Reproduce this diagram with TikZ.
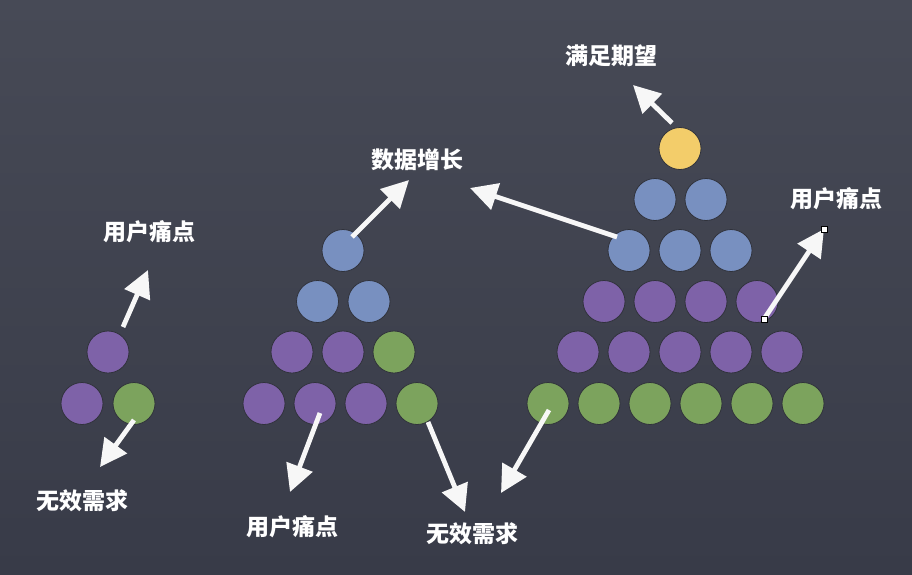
\documentclass[tikz,border=0pt]{standalone}
\usepackage{fontspec}
\newfontfamily\cjk{Noto Sans CJK SC}
\usetikzlibrary{arrows.meta}
\definecolor{bgtop}{HTML}{474A56}
\definecolor{bgbot}{HTML}{383B48}
\definecolor{cyel}{HTML}{F3CD6A}
\definecolor{cblu}{HTML}{7890C0}
\definecolor{cpur}{HTML}{7E62A8}
\definecolor{cgrn}{HTML}{7CA35D}
\definecolor{crim}{HTML}{30323B}
\tikzset{
  dot/.style={circle,minimum size=42pt,inner sep=0pt,draw=crim,line width=0.8pt},
  yel/.style={dot,fill=cyel},
  blu/.style={dot,fill=cblu},
  pur/.style={dot,fill=cpur},
  grn/.style={dot,fill=cgrn},
  chalk/.style={draw=white!94!gray,line width=4.8pt,-{Triangle[length=27pt,width=27pt]}},
  lbl/.style={text=white,font=\cjk\bfseries\fontsize{23}{23}\selectfont,inner sep=0pt},
  handle/.style={draw=black,fill=white,line width=0.8pt,minimum size=6pt,inner sep=0pt,rectangle}
}
\begin{document}
\begin{tikzpicture}[x=1pt,y=-1pt]
\useasboundingbox (0,0) rectangle (912,575);
\shade[top color=bgtop,bottom color=bgbot] (0,0) rectangle (912,575);
% left pyramid
\node[pur] (l1) at (108,352) {};
\node[pur] (l21) at (82,403.5) {};
\node[grn] (l22) at (134,403.5) {};
% middle pyramid
\node[blu] (m1) at (343,250.5) {};
\node[blu] (m21) at (317.5,301.5) {};
\node[blu] (m22) at (369,301.5) {};
\node[pur] (m31) at (292,352) {};
\node[pur] (m32) at (343,352) {};
\node[grn] (m33) at (394,352) {};
\node[pur] (m41) at (264,403.5) {};
\node[pur] (m42) at (315,403.5) {};
\node[pur] (m43) at (366,403.5) {};
\node[grn] (m44) at (417,403.5) {};
% right pyramid
\node[yel] (r1) at (680,148.5) {};
\node[blu] (r21) at (655,199.5) {};
\node[blu] (r22) at (706,199.5) {};
\node[blu] (r31) at (629,250.5) {};
\node[blu] (r32) at (680,250.5) {};
\node[blu] (r33) at (731,250.5) {};
\node[pur] (r41) at (604,301.5) {};
\node[pur] (r42) at (655,301.5) {};
\node[pur] (r43) at (706,301.5) {};
\node[pur] (r44) at (757,301.5) {};
\node[pur] (r51) at (578,352) {};
\node[pur] (r52) at (629,352) {};
\node[pur] (r53) at (680,352) {};
\node[pur] (r54) at (731,352) {};
\node[pur] (r55) at (782,352) {};
\node[grn] (r61) at (548,403.5) {};
\node[grn] (r62) at (599,403.5) {};
\node[grn] (r63) at (650,403.5) {};
\node[grn] (r64) at (701,403.5) {};
\node[grn] (r65) at (752,403.5) {};
\node[grn] (r66) at (803,403.5) {};
% labels
\node[lbl] (t1) at (149,232) {用户痛点};
\node[lbl] (t2) at (82,501) {无效需求};
\node[lbl] (t3) at (417,160) {数据增长};
\node[lbl] (t4) at (292,527) {用户痛点};
\node[lbl] (t5) at (472,534) {无效需求};
\node[lbl] (t6) at (611,56) {满足期望};
\node[lbl] (t7) at (836,199) {用户痛点};
% arrow ends
\coordinate (a1s) at (123,327); \coordinate (a1e) at (148,270);
\coordinate (a2s) at (134,420); \coordinate (a2e) at (100,467);
\coordinate (a3s) at (352,237); \coordinate (a3e) at (409,180);
\coordinate (a4s) at (320,413); \coordinate (a4e) at (290,492);
\coordinate (a5s) at (428,422); \coordinate (a5e) at (465,512);
\coordinate (a6s) at (549,410); \coordinate (a6e) at (501,493);
\coordinate (a7s) at (617,237); \coordinate (a7e) at (470,188);
\coordinate (a8s) at (672,123); \coordinate (a8e) at (633,85);
\coordinate (a9s) at (764,319); \coordinate (a9e) at (824,229);
\draw[chalk] (a1s) -- (a1e);
\draw[chalk] (a2s) -- (a2e);
\draw[chalk] (a3s) -- (a3e);
\draw[chalk] (a4s) -- (a4e);
\draw[chalk] (a5s) -- (a5e);
\draw[chalk] (a6s) -- (a6e);
\draw[chalk] (a7s) -- (a7e);
\draw[chalk] (a8s) -- (a8e);
\draw[chalk] (a9s) -- (a9e);
\node[handle] (h1) at (a9s) {};
\node[handle] (h2) at (a9e) {};
\end{tikzpicture}
\end{document}
